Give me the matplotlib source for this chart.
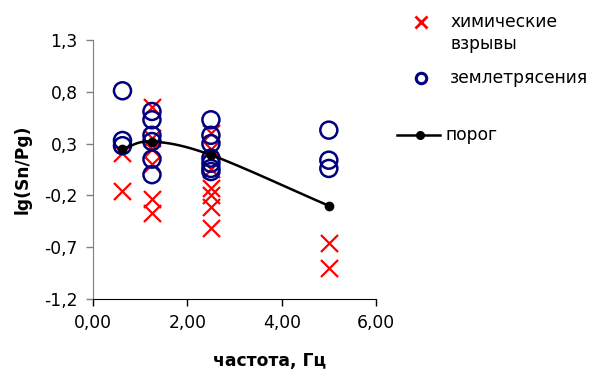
import matplotlib
matplotlib.use("Agg")
import matplotlib.pyplot as plt
from matplotlib.lines import Line2D
import numpy as np

plt.rcParams['font.family'] = ['DejaVu Sans']

# химические взрывы
blast_x = [0.625, 0.625, 1.25, 1.25, 1.25, 1.25, 1.25, 1.25,
           2.5, 2.5, 2.5, 2.5, 2.5, 2.5, 2.5, 5.0, 5.0]
blast_y = [0.21, -0.16, 0.65, 0.35, 0.25, 0.10, -0.23, -0.37,
           0.40, 0.25, 0.05, -0.13, -0.20, -0.31, -0.51, -0.66, -0.90]

# землетрясения
quake_x = [0.625, 0.625, 0.625, 1.25, 1.25, 1.25, 1.25, 1.25, 1.25,
           2.5, 2.5, 2.5, 2.5, 2.5, 2.5, 2.5, 5.0, 5.0, 5.0]
quake_y = [0.81, 0.33, 0.28, 0.61, 0.53, 0.38, 0.32, 0.15, 0.0,
           0.53, 0.38, 0.30, 0.16, 0.11, 0.06, 0.03, 0.43, 0.14, 0.06]

# порог
thr_x = [0.625, 1.25, 2.5, 5.0]
thr_y = [0.25, 0.32, 0.19, -0.30]

labels = ['химические\nвзрывы', 'землетрясения', 'порог']


def smooth(xs, ys, n=30):
    # Catmull-Rom curve through the points (like Excel's smoothed line)
    p = np.column_stack([xs, ys])
    p = np.vstack([p[0] - (p[1] - p[0]), p, p[-1] + (p[-1] - p[-2])])
    out = []
    t = np.linspace(0, 1, n)[:, None]
    for i in range(1, len(p) - 2):
        p0, p1, p2, p3 = p[i - 1], p[i], p[i + 1], p[i + 2]
        seg = 0.5 * ((2 * p1) + (-p0 + p2) * t +
                     (2 * p0 - 5 * p1 + 4 * p2 - p3) * t ** 2 +
                     (-p0 + 3 * p1 - 3 * p2 + p3) * t ** 3)
        out.append(seg)
    c = np.vstack(out)
    return c[:, 0], c[:, 1]


W, H = 598, 372
fig = plt.figure(figsize=(W / 100, H / 100), dpi=100)
ax = fig.add_axes([93 / W, 1 - 299 / H, 283 / W, 259 / H])

ax.scatter(blast_x, blast_y, marker='x', s=150, color='#FF0000',
           linewidths=1.6, zorder=2)
ax.scatter(quake_x, quake_y, marker='o', s=150, facecolors='none',
           edgecolors='#000080', linewidths=1.8, zorder=3)
sx, sy = smooth(thr_x, thr_y)
ax.plot(sx, sy, color='black', lw=1.8, zorder=4)
ax.plot(thr_x, thr_y, 'o', color='black', ms=6, zorder=5)

ax.set_xlim(0, 6)
ax.set_ylim(-1.2, 1.3)
ax.set_xticks([0, 2, 4, 6])
ax.set_xticklabels(['0,00', '2,00', '4,00', '6,00'])
yt = [-1.2, -0.7, -0.2, 0.3, 0.8, 1.3]
ax.set_yticks(yt)
ax.set_yticklabels([f"{v:.1f}".replace('.', ',') for v in yt])
ax.tick_params(labelsize=12.3, length=5, width=1, direction='out', pad=6,
               labelcolor='black')
ax.spines['top'].set_visible(False)
ax.spines['right'].set_visible(False)
ax.spines['left'].set_color('#808080')
ax.spines['bottom'].set_color('black')
ax.tick_params(axis='y', color='#808080')
ax.set_xlabel('частота, Гц', fontsize=12.3, fontweight='bold', labelpad=14,
              x=0.625)
ax.set_ylabel('lg(Sn/Pg)', fontsize=12.3, fontweight='bold', labelpad=9)

# legend drawn in pixel coordinates of the figure
def fx(px):
    return px / W


def fy(py):
    return 1 - py / H


fig.add_artist(Line2D([fx(421)], [fy(22)], ls='none', marker='x',
                      color='#FF0000', ms=9, mew=2))
fig.add_artist(Line2D([fx(421)], [fy(78)], ls='none', marker='o',
                      mfc='none', mec='#000080', ms=7.5, mew=2.2))
fig.add_artist(Line2D([fx(397), fx(440)], [fy(135), fy(135)], color='black',
                      lw=1.8))
fig.add_artist(Line2D([fx(420)], [fy(135)], ls='none', marker='o',
                      color='black', ms=5.5))
txt = dict(fontsize=12.3, color='black', va='center', ha='left',
           linespacing=1.25)
fig.text(fx(450), fy(33), labels[0], **txt)
fig.text(fx(450), fy(78), labels[1], **txt)
fig.text(fx(446), fy(135), labels[2], **txt)

fig.savefig('out.png', dpi=100, facecolor='white')
